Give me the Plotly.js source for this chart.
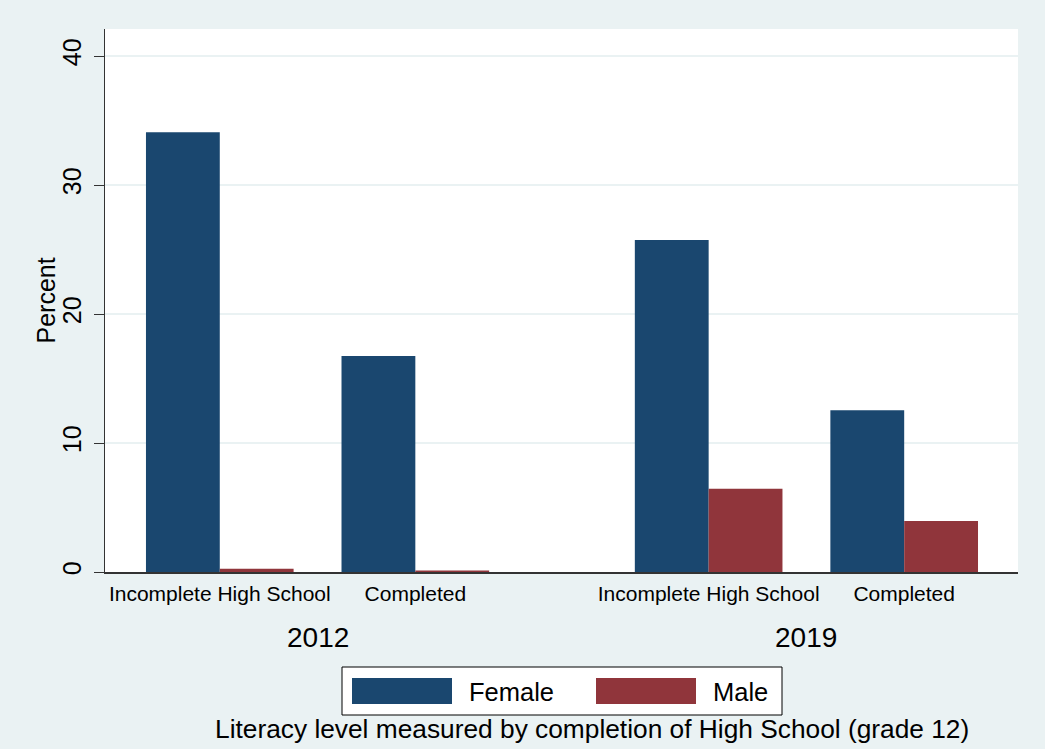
<!DOCTYPE html>
<html>
<head>
<meta charset="utf-8">
<script src="https://cdn.plot.ly/plotly-3.0.1.min.js"></script>
<style>html,body{margin:0;padding:0;background:#eaf2f3;}#chart{width:1045px;height:749px;}</style>
</head>
<body>
<div id="chart"></div>
<script>
const years = ["2012", "2019"];
const levels = ["Incomplete High School", "Completed"];
const seriesNames = ["Female", "Male"];
const female = [34.1, 16.75, 25.75, 12.55];
const male = [0.25, 0.12, 6.45, 3.95];
const yTicks = [0, 10, 20, 30, 40];
const yTitle = "Percent";
const caption = "Literacy level measured by completion of High School (grade 12)";

const colors = ["#1a476f", "#90353b"];
const W = 1045, H = 749;
const M = {l: 105, r: 27, t: 29, b: 177};
const pw = W - M.l - M.r, ph = H - M.t - M.b;
const px2x = p => (p - M.l) / pw;
const py2y = p => (H - M.b - p) / ph;

// positions: levels within a year are 1 apart, extra half gap between years
const xs = [], labels = [];
years.forEach((yr, yi) => levels.forEach((lv, li) => {
  xs.push(yi * (levels.length + 0.5) + li);
  labels.push(lv);
}));

const traces = [female, male].map((vals, i) => ({
  type: "bar", name: seriesNames[i], x: xs, y: vals,
  marker: {color: colors[i], line: {width: 0}},
  showlegend: false, hoverinfo: "x+y"
}));

const annotations = years.map((yr, yi) => {
  const grp = xs.slice(yi * levels.length, (yi + 1) * levels.length);
  return {
    x: grp.reduce((a, b) => a + b, 0) / grp.length, xref: "x",
    y: py2y(637), yref: "paper", text: yr, showarrow: false,
    font: {size: 28, color: "#000"}, xanchor: "center", yanchor: "middle"
  };
});

// legend drawn manually
const shapes = [{
  type: "rect", xref: "paper", yref: "paper",
  x0: px2x(342), x1: px2x(782), y0: py2y(667), y1: py2y(715),
  fillcolor: "#ffffff", line: {color: "#000", width: 1}
}];
const swX = [352, 596], txX = [468, 712];
seriesNames.forEach((nm, i) => {
  shapes.push({
    type: "rect", xref: "paper", yref: "paper",
    x0: px2x(swX[i]), x1: px2x(swX[i] + 100), y0: py2y(678), y1: py2y(704),
    fillcolor: colors[i], line: {width: 0}
  });
  annotations.push({
    x: px2x(txX[i] - 1), xref: "paper", y: py2y(692), yref: "paper",
    text: nm, showarrow: false, xanchor: "left", yanchor: "middle",
    font: {size: 25.5, color: "#000"}
  });
});
annotations.push({
  x: px2x(592), xref: "paper", y: py2y(729), yref: "paper",
  text: caption, showarrow: false, xanchor: "center", yanchor: "middle",
  font: {size: 26.3, color: "#000"}
});
annotations.push({
  x: px2x(45), xref: "paper", y: 0.5, yref: "paper",
  text: yTitle, textangle: -90, showarrow: false,
  xanchor: "center", yanchor: "middle",
  font: {size: 25, color: "#000"}
});

const layout = {
  width: W, height: H,
  margin: M,
  paper_bgcolor: "#eaf2f3", plot_bgcolor: "#ffffff",
  font: {family: "Liberation Sans, Arial, sans-serif", color: "#000"},
  barmode: "group", bargap: 0.245, bargroupgap: 0,
  showlegend: false,
  xaxis: {
    range: [-0.587, 4.082], tickvals: xs, ticktext: labels,
    showgrid: false, zeroline: false, ticks: "",
    showline: true, linecolor: "#333", linewidth: 1.5,
    tickfont: {size: 21, color: "#000"}, ticklabelstandoff: 2, fixedrange: true
  },
  yaxis: {
    range: [0, 42.1], tickvals: yTicks, ticks: "outside", ticklen: 10,
    tickcolor: "#333", tickangle: -90, tickfont: {size: 25, color: "#000"},
    ticklabelstandoff: 3,
    showline: true, linecolor: "#333", linewidth: 1.5,
    showgrid: true, gridcolor: "#eaf2f3", gridwidth: 1.5, zeroline: false,
    automargin: false
  },
  shapes: shapes,
  annotations: annotations
};
Plotly.newPlot("chart", traces, layout, {displayModeBar: false, staticPlot: true});
</script>
</body>
</html>
